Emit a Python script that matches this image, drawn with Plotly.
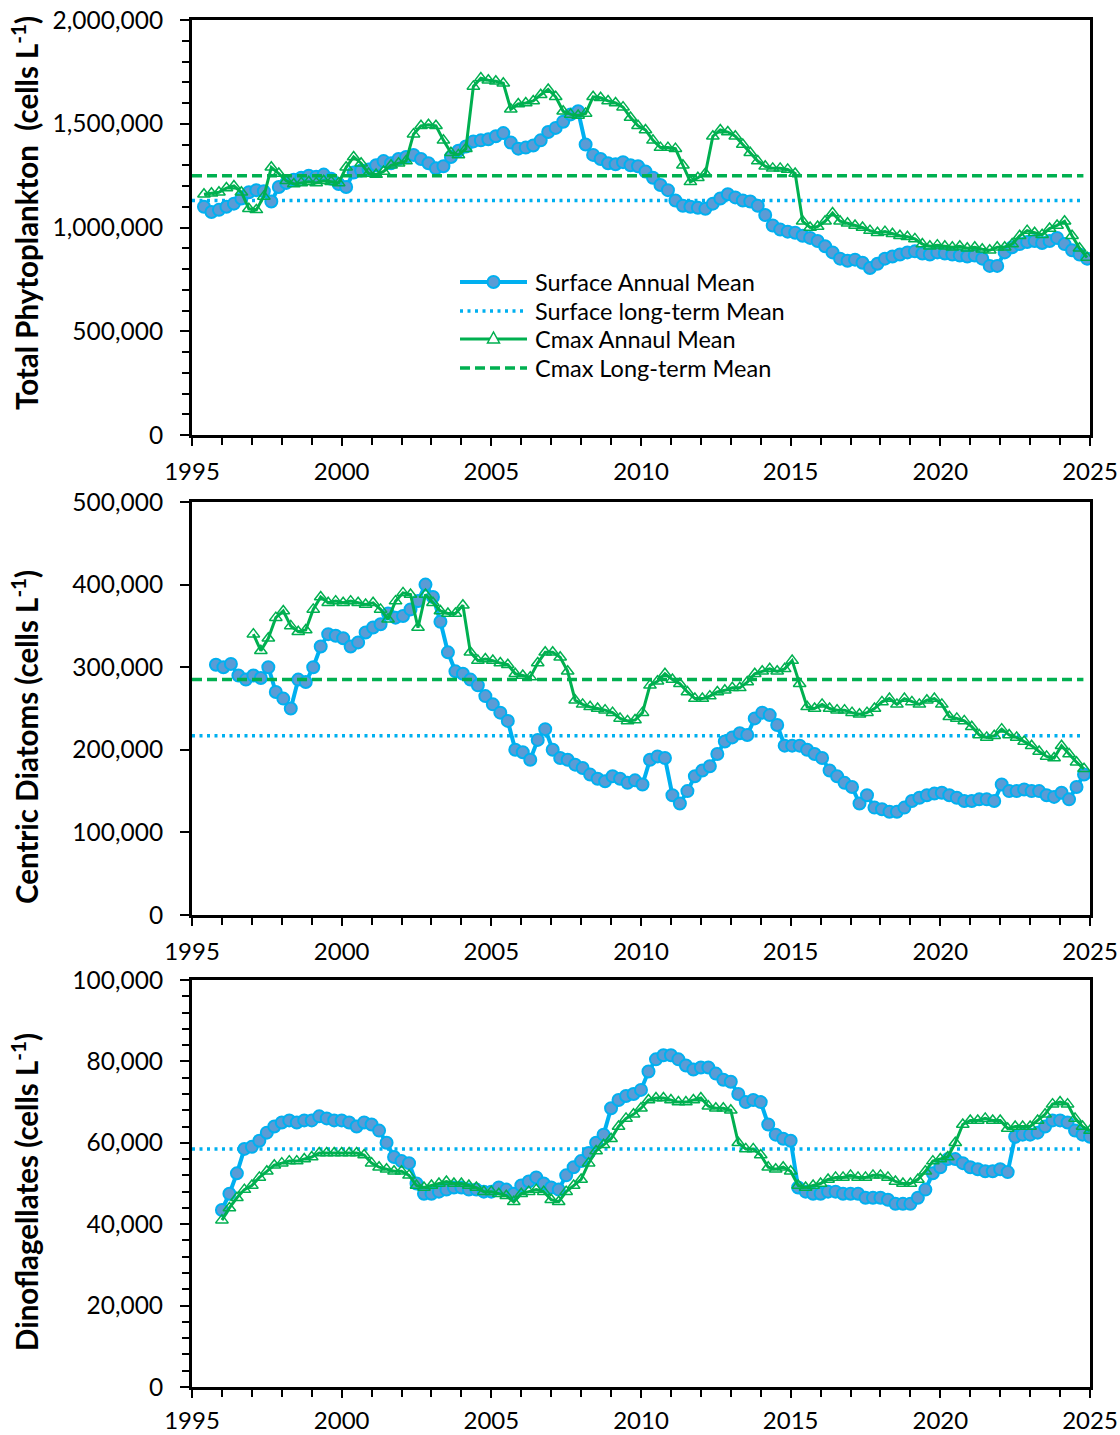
import plotly.graph_objects as go

# ---------------------------------------------------------------
# Running annual means (cells per litre, stored in thousands),
# quarterly steps.  Each row of a list is one calendar year.
# ---------------------------------------------------------------

# Total phytoplankton
TP_START = 1995.4
tp_surface_k = [
    1100, 1075, 1085,
    1100, 1115, 1140, 1170,
    1180, 1175, 1125, 1195,
    1215, 1230, 1240, 1250,
    1245, 1255, 1235, 1210,
    1195, 1265, 1275, 1280,
    1300, 1320, 1310, 1330,
    1340, 1350, 1330, 1310,
    1285, 1295, 1340, 1370,
    1390, 1415, 1420, 1425,
    1440, 1455, 1410, 1380,
    1385, 1395, 1420, 1460,
    1480, 1510, 1545, 1560,
    1400, 1350, 1330, 1310,
    1305, 1315, 1300, 1295,
    1270, 1240, 1205, 1180,
    1130, 1105, 1100, 1095,
    1090, 1115, 1140, 1160,
    1145, 1130, 1125, 1105,
    1060, 1010, 990, 980,
    975, 960, 950, 935,
    910, 880, 850, 840,
    845, 830, 805, 825,
    850, 860, 870, 880,
    885, 875, 870, 880,
    875, 870, 865, 860,
    865, 850, 815, 815,
    880, 905, 920, 930,
    935, 925, 935, 950,
    920, 890, 870, 850,
]
tp_cmax_k = [
    1160, 1165, 1170,
    1190, 1200, 1170, 1090,
    1085, 1150, 1290, 1260,
    1225, 1210, 1215, 1220,
    1215, 1225, 1220, 1215,
    1290, 1340, 1310, 1260,
    1255, 1270, 1300, 1310,
    1320, 1450, 1490, 1495,
    1490, 1420, 1360, 1350,
    1380, 1680, 1720, 1710,
    1705, 1695, 1570, 1595,
    1600, 1610, 1640, 1665,
    1630, 1560, 1545, 1540,
    1550, 1630, 1625, 1610,
    1600, 1580, 1530, 1490,
    1470, 1420, 1385, 1385,
    1380, 1300, 1220, 1240,
    1260, 1440, 1470, 1460,
    1440, 1400, 1360, 1320,
    1295, 1285, 1285, 1280,
    1260, 1030, 1000, 1005,
    1030, 1070, 1030, 1020,
    1010, 1000, 985, 975,
    980, 970, 960, 955,
    945, 920, 910, 915,
    910, 905, 910, 900,
    905, 895, 890, 905,
    905, 920, 960, 985,
    975, 965, 995, 1010,
    1030, 960, 900, 855,
]
tp_surface_mean_k = 1130
tp_cmax_mean_k = 1250

# Centric diatoms
CD_SURF_START = 1995.8
cd_surface_k = [
    303,
    300, 304, 290, 285,
    290, 287, 300, 270,
    262, 250, 285, 282,
    300, 325, 340, 338,
    335, 325, 330, 342,
    348, 352, 365, 360,
    362, 370, 380, 400,
    385, 355, 318, 295,
    292, 285, 278, 265,
    255, 245, 235, 200,
    197, 188, 212, 225,
    200, 190, 188, 182,
    178, 170, 165, 162,
    168, 165, 160, 163,
    158, 188, 192, 190,
    145, 135, 150, 168,
    175, 180, 195, 210,
    215, 220, 218, 238,
    245, 242, 230, 205,
    205, 205, 200, 195,
    190, 175, 168, 160,
    155, 135, 145, 130,
    128, 125, 125, 130,
    138, 142, 145, 147,
    148, 145, 142, 138,
    138, 140, 140, 138,
    158, 150, 150, 152,
    150, 150, 145, 143,
    148, 140, 155, 170,
]
CD_CMAX_START = 1997.05
cd_cmax_k = [
    340, 320, 335, 360,
    368, 350, 343, 345,
    370, 385, 378, 380,
    378, 380, 378, 376,
    378, 370, 358, 380,
    390, 388, 348, 388,
    378, 368, 365, 365,
    375, 318, 308, 310,
    308, 305, 303, 292,
    290, 288, 305, 318,
    318, 312, 295, 260,
    255, 252, 250, 248,
    245, 238, 235, 236,
    245, 278, 283, 292,
    285, 280, 270, 262,
    262, 265, 270, 272,
    275, 275, 282, 292,
    295, 298, 295, 298,
    308, 280, 252, 250,
    255, 250, 248, 248,
    245, 243, 245, 250,
    258, 262, 255, 262,
    258, 255, 260, 262,
    255, 240, 238, 235,
    228, 218, 215, 217,
    225, 218, 215, 210,
    205, 198, 192, 190,
    205, 195, 185, 177,
]
cd_surface_mean_k = 217
cd_cmax_mean_k = 285

# Dinoflagellates
DF_START = 1996.0
df_surface_k = [
    43.5, 47.5, 52.5, 58.5,
    59, 60.5, 62.5, 64,
    65, 65.5, 65, 65.5,
    65.5, 66.5, 66, 65.5,
    65.5, 65, 64, 65,
    64.5, 63, 60, 56.5,
    55.5, 55, 50, 47.5,
    47.5, 48, 48.5, 49,
    49, 48.5, 48.5, 48,
    48, 49, 48.5, 47.5,
    49.5, 50.5, 51.5, 50,
    49, 48.5, 52, 54,
    55.5, 57.5, 60, 62,
    68.5, 70.5, 71.5, 72,
    73, 77.5, 80.5, 81.5,
    81.5, 80.5, 79, 78,
    78.5, 78.5, 77, 75.5,
    75, 72, 70, 70.5,
    70, 64.5, 62, 61,
    60.5, 49, 48, 47.5,
    47.5, 48, 48, 47.5,
    47.5, 47.5, 46.5, 46.5,
    46.5, 46, 45, 45,
    45, 46.5, 48.5, 52.5,
    54, 56, 56, 55,
    54, 53.5, 53, 53,
    53.5, 52.8, 61.5, 62,
    62, 62.5, 64, 65.5,
    65.5, 65, 63, 62,
    61.5,
]
df_cmax_k = [
    41, 44, 46.5, 48.5,
    49.5, 51.5, 53, 54.5,
    55, 55.5, 55.5, 56,
    56.5, 57.5, 57.5, 57.5,
    57.5, 57.5, 57.5, 57,
    55, 54, 53.5, 53,
    53, 52, 49.5, 49,
    49.5, 50, 50.5, 50,
    50, 49.5, 49, 48,
    48, 47.5, 47, 45.5,
    47.5, 48, 48.5, 48,
    46, 45.5, 48, 49.5,
    51, 55, 58, 59.5,
    61, 64, 66, 67,
    68.5, 70.5, 71, 71,
    70.5, 70, 70, 70.5,
    71, 69, 68.5, 68.5,
    68, 60, 58.5, 58.5,
    57, 54, 53.5, 54,
    53, 49.5, 49, 49.5,
    50, 51, 51.5, 51.5,
    52, 51.5, 51.5, 52,
    52, 51.5, 50.5, 50,
    50, 51, 53, 55.5,
    56, 56.5, 60, 64.5,
    65.5, 65.5, 66, 65.5,
    65.5, 63.5, 64, 64,
    64, 65.5, 67, 69.5,
    70, 69.5, 66, 64,
    63,
]
df_surface_mean_k = 58.5

MEAN_SPAN = [1995.0, 2024.78]
X_TICKS = [1995, 2000, 2005, 2010, 2015, 2020, 2025]

LEGEND_LABELS = [
    "Surface Annual Mean",
    "Surface long-term Mean",
    "Cmax Annaul Mean",
    "Cmax Long-term Mean",
]

BLUE = "#00B0F0"
BLUE_FILL = "#5B9BD5"
GREEN = "#00B050"
FONT = "Lato"
DOT = "3px,4.5px"
DASH = "10px,5px"

STEP = 0.25


def times(start, n):
    return [start + STEP * i for i in range(n)]


def scale(vals):
    return [v * 1000 for v in vals]


SURF_LINE = dict(color=BLUE, width=4)
SURF_MARKER = dict(symbol="circle", size=12, color=BLUE_FILL,
                   line=dict(color=BLUE, width=2))
CMAX_LINE = dict(color=GREEN, width=3)
CMAX_MARKER = dict(symbol="triangle-up-open", size=11, color=GREEN,
                   line=dict(color=GREEN, width=1.5))

fig = go.Figure()


def add_panel(idx, surf_start, surf, cmax_start, cmax, surf_mean, cmax_mean):
    xa = "x" if idx == 1 else f"x{idx}"
    ya = "y" if idx == 1 else f"y{idx}"
    fig.add_trace(go.Scatter(
        x=MEAN_SPAN, y=[surf_mean * 1000] * 2, xaxis=xa, yaxis=ya,
        mode="lines", name=LEGEND_LABELS[1],
        line=dict(color=BLUE, width=3.5, dash=DOT),
    ))
    fig.add_trace(go.Scatter(
        x=times(surf_start, len(surf)), y=scale(surf), xaxis=xa, yaxis=ya,
        mode="lines+markers", name=LEGEND_LABELS[0],
        line=SURF_LINE, marker=SURF_MARKER,
    ))
    fig.add_trace(go.Scatter(
        x=times(cmax_start, len(cmax)), y=scale(cmax), xaxis=xa, yaxis=ya,
        mode="lines+markers", name=LEGEND_LABELS[2],
        line=CMAX_LINE, marker=CMAX_MARKER,
    ))
    if cmax_mean is not None:
        fig.add_trace(go.Scatter(
            x=MEAN_SPAN, y=[cmax_mean * 1000] * 2, xaxis=xa, yaxis=ya,
            mode="lines", name=LEGEND_LABELS[3],
            line=dict(color=GREEN, width=3.5, dash=DASH),
        ))


add_panel(1, TP_START, tp_surface_k, TP_START, tp_cmax_k,
          tp_surface_mean_k, tp_cmax_mean_k)
add_panel(2, CD_SURF_START, cd_surface_k, CD_CMAX_START, cd_cmax_k,
          cd_surface_mean_k, cd_cmax_mean_k)
add_panel(3, DF_START, df_surface_k, DF_START, df_cmax_k,
          df_surface_mean_k, None)

# plot-area geometry in pixels
W, H = 1120, 1435
ML, MR, MT, MB = 192, 30, 20, 48
PW = W - ML - MR
PH = H - MT - MB


def px_x(px):
    return (px - ML) / PW


def px_y(py):
    return (H - MB - py) / PH


domains = [[px_y(435), px_y(20)], [px_y(915), px_y(502)],
           [px_y(1387), px_y(980)]]
y_ranges = [(0, 2_000_000), (0, 500_000), (0, 100_000)]
y_dticks = [500_000, 100_000, 20_000]
y_minor = [100_000, None, 4_000]
x_standoff = [5, 5, 2]
titles = [
    "Total Phytoplankton  (cells L<sup>-1</sup>)",
    "Centric Diatoms (cells L<sup>-1</sup>)",
    "Dinoflagellates (cells L<sup>-1</sup>)",
]
title_centres = [213, 737, 1192]

y_tick_font = dict(family=FONT, size=24.5, color="black")
x_tick_font = dict(family=FONT, size=24, color="black")
layout = dict(
    width=W, height=H,
    margin=dict(l=ML, r=MR, t=MT, b=MB, autoexpand=False),
    paper_bgcolor="white", plot_bgcolor="white",
    font=dict(family=FONT, size=22, color="black"),
    showlegend=False,
    annotations=[], shapes=[],
)

for i in range(3):
    n = i + 1
    xkey = "xaxis" if n == 1 else f"xaxis{n}"
    ykey = "yaxis" if n == 1 else f"yaxis{n}"
    anchor_y = "y" if n == 1 else f"y{n}"
    anchor_x = "x" if n == 1 else f"x{n}"
    layout[xkey] = dict(
        domain=[0, 1], anchor=anchor_y, range=[1995, 2025],
        tickvals=X_TICKS, ticktext=[str(t) for t in X_TICKS],
        showline=True, linecolor="black", linewidth=2.5, mirror=True,
        ticks="outside", ticklen=8, tickwidth=2, tickcolor="black",
        ticklabelstandoff=x_standoff[i], automargin=False,
        showgrid=False, zeroline=False, tickfont=x_tick_font,
        minor=dict(dtick=1, tick0=1995, ticks="outside", ticklen=7,
                   tickwidth=1.5, tickcolor="black", showgrid=False),
    )
    ya = dict(
        domain=domains[i], anchor=anchor_x, range=list(y_ranges[i]),
        dtick=y_dticks[i], tick0=0, tickformat=",d",
        showline=True, linecolor="black", linewidth=3, mirror=True,
        ticks="outside", ticklen=9, tickwidth=2, tickcolor="black",
        ticklabelstandoff=12, automargin=False,
        showgrid=False, zeroline=False, tickfont=y_tick_font,
    )
    if y_minor[i]:
        ya["minor"] = dict(dtick=y_minor[i], tick0=0, ticks="outside",
                           ticklen=7, tickwidth=1.5, tickcolor="black",
                           showgrid=False)
    layout[ykey] = ya

    # inner halves of the major ticks, so they cross the axis lines
    layout[f"xaxis{n + 3}"] = dict(
        overlaying=anchor_x, anchor=anchor_y, range=[1995, 2025],
        tickvals=X_TICKS, ticks="inside", ticklen=8, tickwidth=2,
        tickcolor="black", showticklabels=False, showline=False,
        showgrid=False, zeroline=False, automargin=False,
    )
    layout[f"yaxis{n + 3}"] = dict(
        overlaying=anchor_y, anchor=anchor_x, range=list(y_ranges[i]),
        dtick=y_dticks[i], tick0=0, ticks="inside", ticklen=8, tickwidth=2,
        tickcolor="black", showticklabels=False, showline=False,
        showgrid=False, zeroline=False, automargin=False,
    )

    layout["annotations"].append(dict(
        text="<b>" + titles[i] + "</b>", textangle=-90,
        xref="paper", yref="paper",
        x=px_x(25), y=px_y(title_centres[i]),
        xanchor="center", yanchor="middle", showarrow=False,
        font=dict(family=FONT, size=29.5, color="black"),
    ))

# legend block inside the top panel
LEG_ROWS = [282, 311, 339, 368]
LEG_X0, LEG_X1, LEG_TEXT = 460, 527, 533
leg_styles = [
    dict(color=BLUE, width=4),
    dict(color=BLUE, width=3.5, dash=DOT),
    dict(color=GREEN, width=3),
    dict(color=GREEN, width=3.5, dash=DASH),
]
for row, label, style in zip(LEG_ROWS, LEGEND_LABELS, leg_styles):
    layout["shapes"].append(dict(
        type="line", xref="paper", yref="paper",
        x0=px_x(LEG_X0), x1=px_x(LEG_X1), y0=px_y(row), y1=px_y(row),
        line=style,
    ))
    layout["annotations"].append(dict(
        text=label, xref="paper", yref="paper",
        x=px_x(LEG_TEXT), y=px_y(row), xanchor="left", yanchor="middle",
        showarrow=False, font=dict(family=FONT, size=23.5, color="black"),
    ))

mid = (LEG_X0 + LEG_X1) / 2
# circle marker sample
layout["shapes"].append(dict(
    type="circle", xref="paper", yref="paper",
    xsizemode="pixel", ysizemode="pixel",
    xanchor=px_x(mid), yanchor=px_y(LEG_ROWS[0]),
    x0=-6, x1=6, y0=-6, y1=6,
    fillcolor=BLUE_FILL, line=dict(color=BLUE, width=2),
))
# open triangle marker sample
layout["shapes"].append(dict(
    type="path", xref="paper", yref="paper",
    xsizemode="pixel", ysizemode="pixel",
    xanchor=px_x(mid), yanchor=px_y(LEG_ROWS[2]),
    path="M -6,-4 L 6,-4 L 0,7 Z",
    fillcolor="white", line=dict(color=GREEN, width=1.5),
))

fig.update_layout(**layout)
fig.write_html("out.html")
